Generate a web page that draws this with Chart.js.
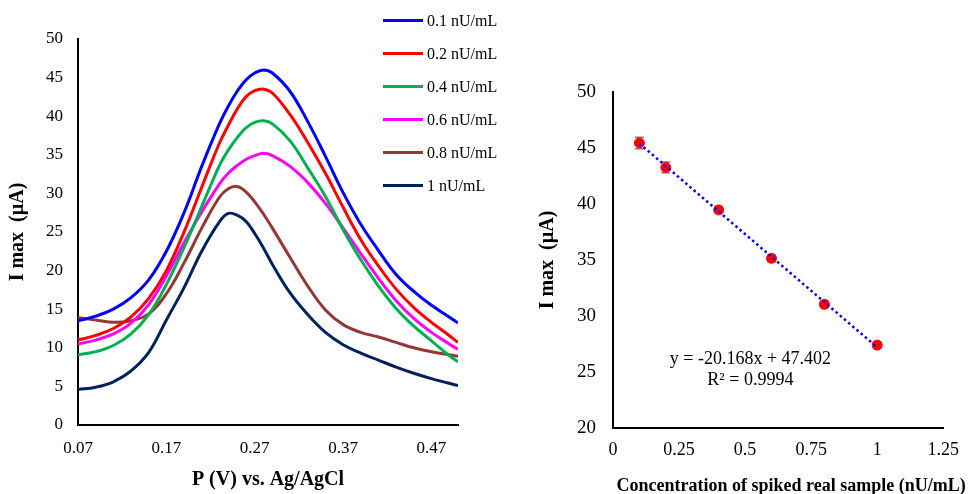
<!DOCTYPE html>
<html>
<head>
<meta charset="utf-8">
<script src="https://cdn.jsdelivr.net/npm/chart.js@4.4.1/dist/chart.umd.min.js"></script>
<style>
  body { margin: 0; background: #fff; width: 970px; height: 494px; overflow: hidden; position: relative; font-family: 'Liberation Serif', serif; }
  #left { position: absolute; left: 0; top: 0; width: 530px; height: 494px; }
  #right { position: absolute; left: 530px; top: 0; width: 440px; height: 494px; }
  #legend { position: absolute; left: 383px; top: 4px; }
  .item { height: 33px; display: flex; align-items: center; font-size: 16px; color: #000; }
  .swatch { width: 40px; height: 3px; margin-right: 4px; }
</style>
</head>
<body>
<div id="left"><canvas id="dpvChart"></canvas></div>
<div id="legend"></div>
<div id="right"><canvas id="calChart"></canvas></div>
<script>
// left panel: DPV curves
const potential = [0.07, 0.09, 0.11, 0.13, 0.15, 0.17, 0.19, 0.21, 0.23, 0.24, 0.25, 0.26, 0.27,
                   0.28, 0.29, 0.31, 0.33, 0.35, 0.37, 0.39, 0.41, 0.43, 0.45, 0.47, 0.49, 0.50];
const cur01 = [13.5, 14.1, 15.0, 16.5, 18.8, 22.5, 27.5, 33.5, 39.0, 41.3, 43.2, 44.7, 45.6,
               46.0, 45.6, 43.2, 39.3, 34.8, 30.1, 26.0, 22.6, 19.5, 17.3, 15.5, 14.0, 13.2];
const cur02 = [11.0, 11.6, 12.5, 14.0, 16.4, 20.0, 25.0, 30.8, 36.5, 38.8, 40.9, 42.5, 43.3,
               43.5, 43.0, 40.2, 36.6, 32.6, 28.2, 24.0, 20.6, 17.6, 15.2, 13.3, 11.6, 10.7];
const cur04 = [9.1, 9.5, 10.3, 11.8, 14.3, 18.2, 23.0, 28.3, 33.6, 35.6, 37.2, 38.5, 39.2,
               39.4, 39.0, 36.8, 33.3, 29.6, 25.3, 21.4, 18.0, 15.1, 12.8, 10.9, 9.0, 8.2];
const cur06 = [10.5, 11.0, 11.8, 13.2, 15.6, 19.3, 23.6, 27.6, 31.2, 32.6, 33.6, 34.4, 34.9,
               35.2, 34.9, 33.5, 31.4, 28.7, 25.5, 22.2, 19.0, 16.1, 13.8, 12.0, 10.5, 9.8];
const cur08 = [13.9, 13.6, 13.3, 13.5, 14.4, 17.0, 21.0, 25.5, 29.5, 30.6, 30.9, 30.2, 28.9,
               27.3, 25.5, 21.7, 18.0, 14.9, 13.0, 12.0, 11.4, 10.7, 10.0, 9.5, 9.1, 8.9];
const cur10 = [4.6, 4.9, 5.6, 7.0, 9.4, 13.6, 17.8, 22.5, 26.3, 27.4, 27.2, 26.4, 24.8,
               22.9, 20.8, 17.1, 14.3, 12.0, 10.4, 9.3, 8.4, 7.5, 6.7, 6.0, 5.4, 5.1];
const seriesLabels = ['0.1 nU/mL', '0.2 nU/mL', '0.4 nU/mL', '0.6 nU/mL', '0.8 nU/mL', '1 nU/mL'];
const seriesColors = ['#0000FF', '#FF0000', '#00B050', '#FF00FF', '#953735', '#002060'];
const leftXTicks = [0.07, 0.17, 0.27, 0.37, 0.47];

// right panel: calibration
const conc = [0.1, 0.2, 0.4, 0.6, 0.8, 1];
const imax = [45.45, 43.26, 39.47, 35.15, 31.04, 27.4];
const imaxErr = [0.52, 0.48, 0.3, 0.3, 0.3, 0.3];
const fitX = [0.1, 1];
const fitY = [45.4, 27.2];
const rightXTicks = [0, 0.25, 0.5, 0.75, 1, 1.25];

const serif = 'Liberation Serif';
const tickFont = { family: serif, size: 17 };
const titleFont = { family: serif, size: 20, weight: 'bold' };

const allCurves = [cur01, cur02, cur04, cur06, cur08, cur10];

// legend (html)
const legendEl = document.getElementById('legend');
seriesLabels.forEach((lab, i) => {
  const row = document.createElement('div');
  row.className = 'item';
  row.innerHTML = '<span class="swatch" style="background:' + seriesColors[i] + '"></span>' + lab;
  legendEl.appendChild(row);
});

new Chart(document.getElementById('dpvChart'), {
  type: 'line',
  data: {
    datasets: allCurves.map((arr, i) => ({
      label: seriesLabels[i],
      data: arr.map((v, j) => ({ x: potential[j], y: v })),
      borderColor: seriesColors[i],
      borderWidth: 3,
      pointRadius: 0,
      tension: 0.4,
      fill: false,
    })),
  },
  options: {
    responsive: true,
    maintainAspectRatio: false,
    animation: false,
    layout: { padding: { top: 39, right: 72, bottom: 0, left: 0 } },
    plugins: { legend: { display: false }, tooltip: { enabled: false } },
    scales: {
      x: {
        type: 'linear',
        min: 0.07,
        max: 0.5,
        afterBuildTicks: s => { s.ticks = leftXTicks.map(v => ({ value: v })); },
        afterFit: s => { s.height = 69; },
        ticks: { callback: v => v.toFixed(2), font: tickFont, color: '#000', padding: 13, maxRotation: 0 },
        grid: { display: false, drawTicks: false },
        border: { display: true, color: '#000', width: 2 },
        title: { display: true, text: 'P (V) vs. Ag/AgCl', font: titleFont, color: '#000', padding: { top: 0, bottom: 2 } },
      },
      y: {
        min: 0,
        max: 50,
        afterFit: s => { s.width = 78; },
        ticks: { stepSize: 5, font: tickFont, color: '#000', padding: 15 },
        grid: { display: false, drawTicks: false },
        border: { display: true, color: '#000', width: 2 },
        title: { display: true, text: 'I max  (µA)', font: titleFont, color: '#000', padding: { top: 6, bottom: 0 } },
      },
    },
  },
});

// error bars, equation and x title for the calibration plot
const calExtras = {
  id: 'calExtras',
  beforeDatasetsDraw(chart) {
    const { ctx, scales: { x, y } } = chart;
    ctx.save();
    ctx.strokeStyle = '#7F7F7F';
    ctx.lineWidth = 1.5;
    conc.forEach((c, i) => {
      const px = x.getPixelForValue(c);
      const top = y.getPixelForValue(imax[i] + imaxErr[i]);
      const bot = y.getPixelForValue(imax[i] - imaxErr[i]);
      ctx.beginPath();
      ctx.moveTo(px, top); ctx.lineTo(px, bot);
      ctx.moveTo(px - 4.5, top); ctx.lineTo(px + 4.5, top);
      ctx.moveTo(px - 4.5, bot); ctx.lineTo(px + 4.5, bot);
      ctx.stroke();
    });
    ctx.restore();
  },
  afterDraw(chart) {
    const { ctx, chartArea, scales: { x, y } } = chart;
    ctx.save();
    ctx.fillStyle = '#000';
    ctx.font = '18px "Liberation Serif"';
    ctx.textAlign = 'center';
    ctx.textBaseline = 'middle';
    const cx = x.getPixelForValue(0.52);
    ctx.fillText('y = -20.168x + 47.402', cx, y.getPixelForValue(26.1));
    ctx.fillText('R² = 0.9994', cx, y.getPixelForValue(24.3));
    ctx.font = 'bold 18px "Liberation Serif"';
    ctx.fillText('Concentration of spiked real sample (nU/mL)', (chartArea.left + chartArea.right) / 2 + 13, 486);
    ctx.restore();
  },
};

new Chart(document.getElementById('calChart'), {
  type: 'scatter',
  data: {
    datasets: [
      {
        label: 'fit',
        type: 'line',
        data: fitX.map((v, i) => ({ x: v, y: fitY[i] })),
        borderColor: '#0000FF',
        borderWidth: 2.5,
        borderDash: [2.5, 3],
        pointRadius: 0,
        fill: false,
        order: 1,
      },
      {
        label: 'Imax',
        data: conc.map((c, i) => ({ x: c, y: imax[i] })),
        backgroundColor: '#FF0000',
        borderColor: '#FF0000',
        pointRadius: 5,
        order: 2,
      },
    ],
  },
  options: {
    responsive: true,
    maintainAspectRatio: false,
    animation: false,
    layout: { padding: { top: 92, right: 25, bottom: 0, left: 0 } },
    plugins: { legend: { display: false }, tooltip: { enabled: false } },
    scales: {
      x: {
        type: 'linear',
        min: 0,
        max: 1.25,
        afterBuildTicks: s => { s.ticks = rightXTicks.map(v => ({ value: v })); },
        afterFit: s => { s.height = 66; },
        ticks: { callback: v => String(v), font: { family: serif, size: 18 }, color: '#000', padding: 11, maxRotation: 0 },
        grid: { display: false, drawTicks: false },
        border: { display: true, color: '#000', width: 2 },
      },
      y: {
        min: 20,
        max: 50,
        afterFit: s => { s.width = 83; },
        ticks: { stepSize: 5, font: { family: serif, size: 19 }, color: '#000', padding: 17 },
        grid: { display: false, drawTicks: false },
        border: { display: true, color: '#000', width: 2 },
        title: { display: true, text: 'I max  (µA)', font: titleFont, color: '#000', padding: { top: 6, bottom: 0 } },
      },
    },
  },
  plugins: [calExtras],
});
</script>
</body>
</html>
